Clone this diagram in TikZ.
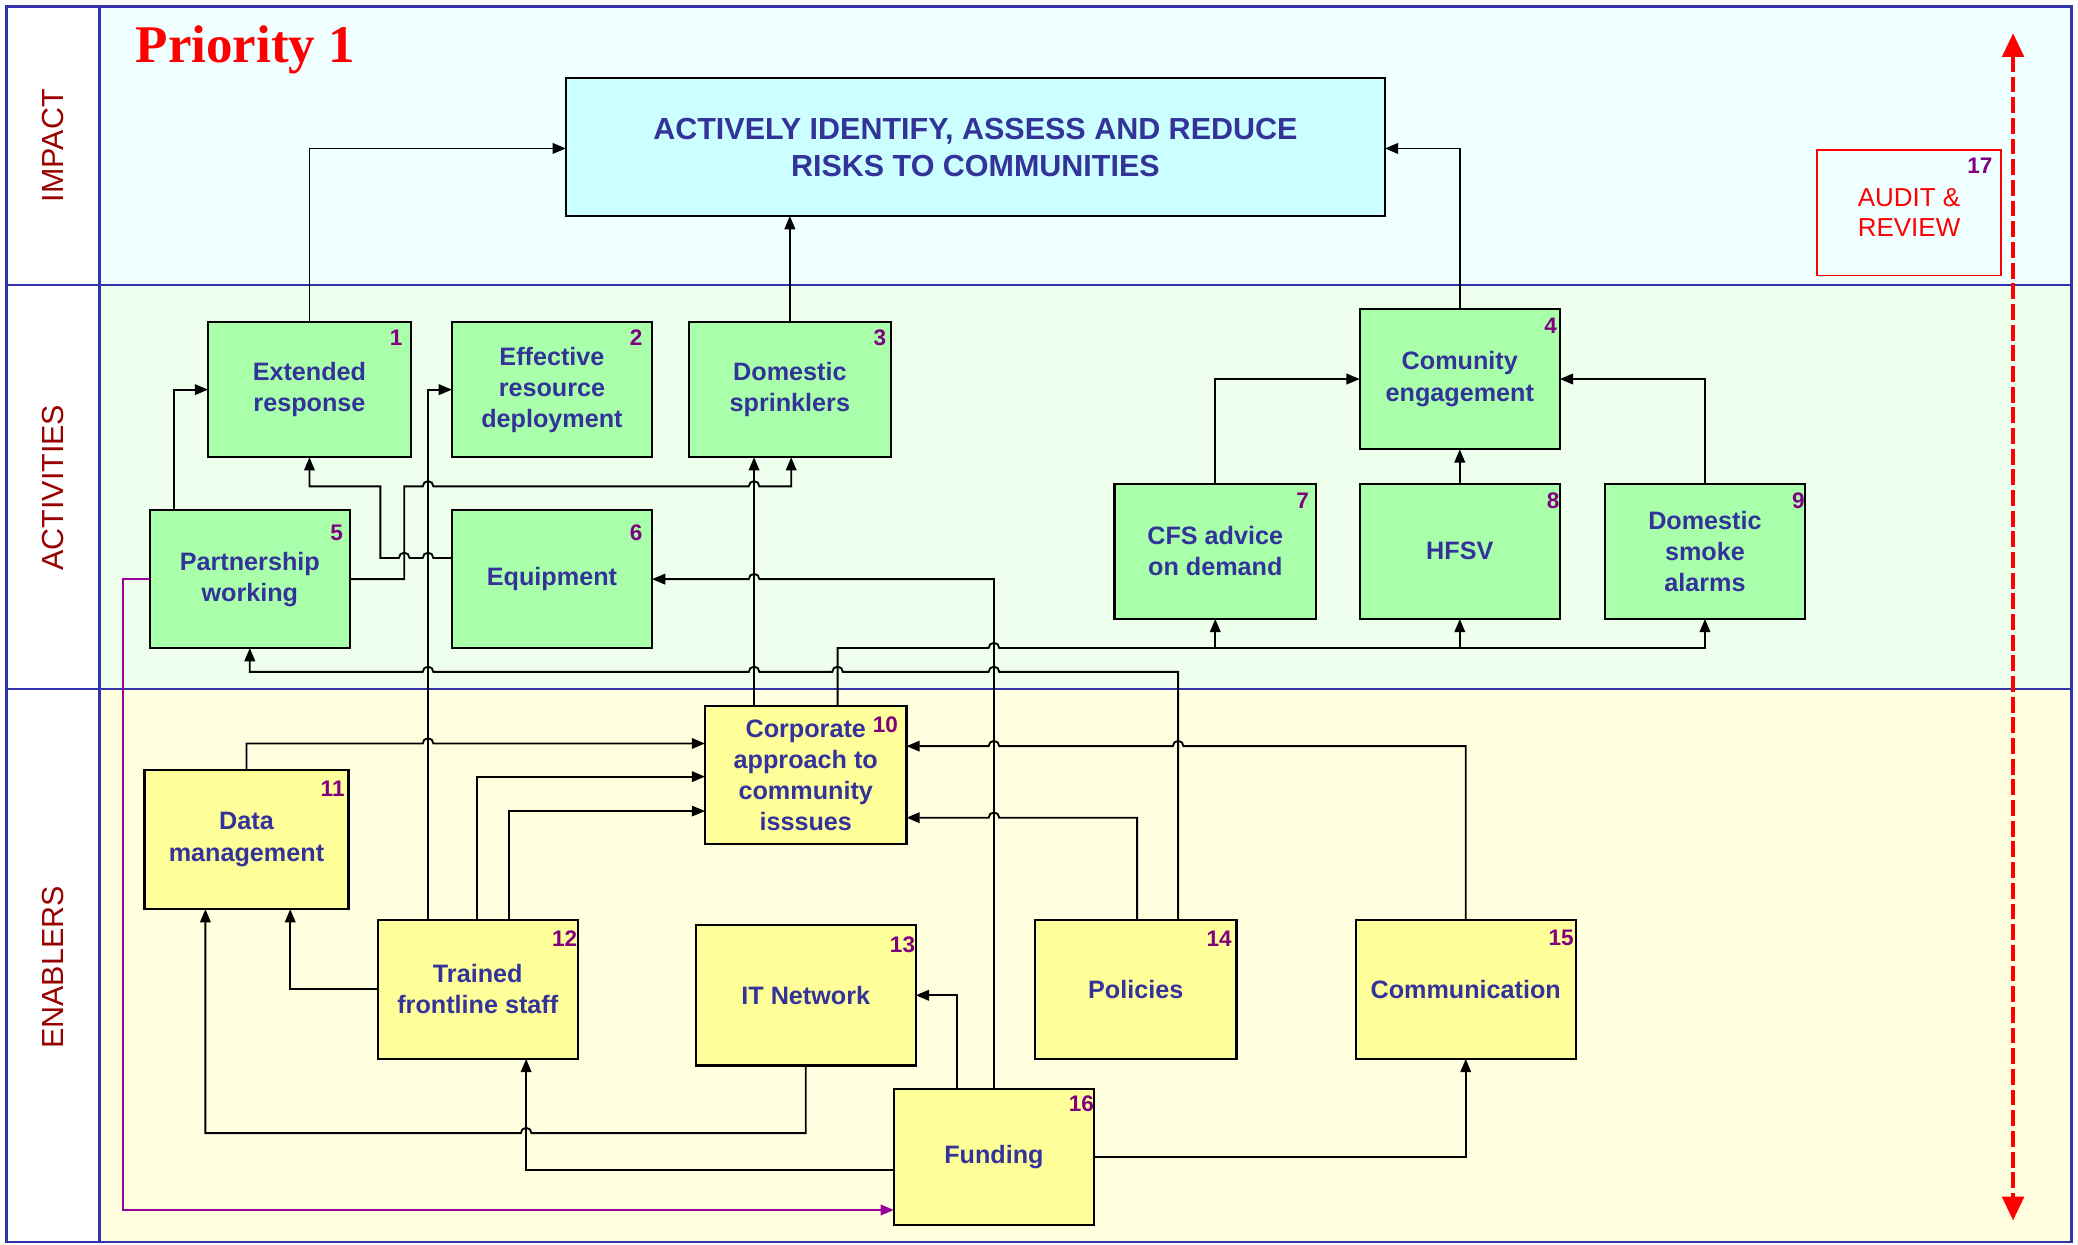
\documentclass[tikz,border=0pt]{standalone}
\usepackage{fontspec}
\setmainfont{Liberation Sans}
\newfontfamily\prioFont{Liberation Serif}
\usetikzlibrary{arrows.meta}
\definecolor{txtblue}{RGB}{51,51,153}
\definecolor{numpurple}{RGB}{128,0,128}
\definecolor{lanered}{RGB}{153,0,0}
\definecolor{frameblue}{RGB}{51,51,170}
\definecolor{impactfill}{RGB}{240,255,255}
\definecolor{actfill}{RGB}{238,255,238}
\definecolor{enfill}{RGB}{255,255,224}
\definecolor{greenbox}{RGB}{170,255,170}
\definecolor{yellowbox}{RGB}{255,255,153}
\definecolor{titlefill}{RGB}{204,255,255}
\definecolor{purpleline}{RGB}{153,0,153}
\definecolor{auditred}{RGB}{255,0,0}
\begin{document}
\begin{tikzpicture}[x=0.5pt,y=0.5pt,
  box/.style={draw=black, line width=0.8pt, inner sep=0pt, outer sep=0pt, align=center,
    text=txtblue, font=\fontsize{9.5}{11.75}\selectfont\bfseries},
  gbox/.style={box, fill=greenbox, minimum width=75.5pt, minimum height=51pt},
  ybox/.style={box, fill=yellowbox, minimum width=75.5pt, minimum height=52.5pt},
  num/.style={text=numpurple, font=\fontsize{8.5}{10}\selectfont\bfseries, inner sep=0pt},
  conn/.style={draw=black, line width=0.7pt, -{Triangle[length=5pt,width=4pt]}},
  lane/.style={text=lanered, font=\fontsize{11.5}{13}\selectfont, rotate=90, inner sep=0pt},
  border/.style={draw=frameblue, line width=0.9pt}
]
\useasboundingbox (0,0) rectangle (1568,-939);
% lanes
\fill[impactfill] (75,-5) rectangle (1563,-215);
\fill[actfill] (75,-215) rectangle (1563,-520);
\fill[enfill] (75,-520) rectangle (1563,-937);
\fill[white] (5,-5) rectangle (75,-937);
\draw[border] (5,-5) rectangle (1563,-937);
\draw[border] (75,-5) -- (75,-937);
\draw[border] (5,-215) -- (1563,-215);
\draw[border] (5,-520) -- (1563,-520);

\node[lane] (lImpact) at (40,-110) {IMPACT};
\node[lane] (lAct) at (40,-368) {ACTIVITIES};
\node[lane] (lEn) at (40,-730) {ENABLERS};

\node[anchor=base west, inner sep=0pt, text=red, font=\prioFont\bfseries\fontsize{20}{24}\selectfont] (prio) at (102,-47) {Priority 1};

% title
\node[box, fill=titlefill, minimum width=309pt, minimum height=52pt,
  font=\fontsize{11.5}{14}\selectfont\bfseries] (title) at (736,-111)
  {ACTIVELY IDENTIFY, ASSESS AND REDUCE\\RISKS TO COMMUNITIES};

% audit
\node[draw=auditred, line width=0.6pt, text=auditred, minimum width=69.5pt, minimum height=47.5pt,
  align=center, font=\fontsize{9.8}{11.5}\selectfont, inner sep=0pt, outer sep=0pt] (audit)
  at (1440.5,-160.5) {AUDIT \&\\REVIEW};
\coordinate (auTop) at (1519,-25);
\coordinate (auBot) at (1519,-921);
\draw[auditred, line width=1.7pt, dash pattern=on 6pt off 1.8pt,
  {Triangle[length=9pt,width=8pt]}-{Triangle[length=9pt,width=8pt]}] (auTop) -- (auBot);

% activities
\node[gbox, minimum width=76.5pt] (n1) at (233.5,-294) {Extended\\response};
\node[gbox] (n2) at (416.5,-294) {Effective\\resource\\deployment};
\node[gbox, minimum width=76pt] (n3) at (596,-294) {Domestic\\sprinklers};
\node[gbox, minimum height=53pt] (n4) at (1101.5,-286) {Comunity\\engagement};
\node[gbox, minimum height=52pt] (n5) at (188.5,-437) {Partnership\\working};
\node[gbox, minimum height=52pt] (n6) at (416.5,-437) {Equipment};
\node[gbox, minimum width=76pt] (n7) at (917,-416) {CFS advice\\on demand};
\node[gbox] (n8) at (1101.5,-416) {HFSV};
\node[gbox] (n9) at (1286.5,-416) {Domestic\\smoke\\alarms};

% enablers
\node[ybox, minimum width=76pt, minimum height=52pt] (n10) at (608,-585) {Corporate\\approach to\\community\\isssues};
\node[ybox, minimum width=77pt] (n11) at (186,-633.5) {Data\\management};
\node[ybox] (n12) at (360.5,-746.5) {Trained\\frontline staff};
\node[ybox, minimum width=83pt, minimum height=53pt] (n13) at (608,-751) {IT Network};
\node[ybox, minimum width=76pt] (n14) at (857,-746.5) {Policies};
\node[ybox, minimum width=83pt] (n15) at (1106,-746.5) {Communication};
\node[ybox, minimum height=51pt] (n16) at (750,-873) {Funding};

% numbers
\node[num] (k1) at (299,-255) {1};
\node[num] (k2) at (480,-255) {2};
\node[num] (k3) at (664,-255) {3};
\node[num] (k4) at (1170,-246) {4};
\node[num] (k5) at (254,-402) {5};
\node[num] (k6) at (480,-402) {6};
\node[num] (k7) at (983,-378) {7};
\node[num] (k8) at (1172,-378) {8};
\node[num] (k9) at (1357,-378) {9};
\node[num] (k10) at (668,-547) {10};
\node[num] (k11) at (251,-595) {11};
\node[num] (k12) at (426,-708) {12};
\node[num] (k13) at (681,-713) {13};
\node[num] (k14) at (920,-708) {14};
\node[num] (k15) at (1178,-708) {15};
\node[num] (k16) at (816,-833) {16};
\node[num] (k17) at (1494,-125) {17};

% connectors to title
\draw[conn] (n1.north) |- (title.west |- 0,-112);
\draw[conn] (n3.north) -- (title.south -| n3.north);
\draw[conn] (n4.north) |- (title.east |- 0,-112);

% to community engagement
\draw[conn] (n7.north) |- (n4.west);
\draw[conn] (n8.north) -- (n4.south);
\draw[conn] (n9.north) |- (n4.east);

% partnership -> extended response
\draw[conn] (n5.north -| 131,0) |- (n1.west);
% trained -> effective resource
\draw[conn] (n12.north -| 323,0) |- (n2.west);
% equipment -> extended response
\draw[conn] (n6.west |- 0,-421) -- (327,-421) arc[start angle=0,end angle=180,radius=2pt]
  -- (309,-421) arc[start angle=0,end angle=180,radius=2pt] -- (287,-421) -- (287,-367) -| (n1.south);
% partnership -> sprinklers
\draw[conn] (n5.east) -- (305,-437) -- (305,-367) -- (319,-367) arc[start angle=180,end angle=0,radius=2pt]
  -- (565,-367) arc[start angle=180,end angle=0,radius=2pt] -- (597,-367) -- (n3.south -| 597,0);
% corporate -> sprinklers
\draw[conn] (n10.north -| 569,0) -- (n3.south -| 569,0);
% funding -> equipment
\draw[conn] (n16.north) -- (750,-437) -- (573,-437) arc[start angle=0,end angle=180,radius=2pt] -- (n6.east);
% corporate -> 7, 8, 9
\coordinate (b7) at (917,-489);
\coordinate (b8) at (1101.5,-489);
\draw[conn] (n10.north -| 632,0) -- (632,-489) -- (746,-489) arc[start angle=180,end angle=0,radius=2pt]
  -- (1286.5,-489) -- (n9.south);
\draw[conn] (b7) -- (n7.south);
\draw[conn] (b8) -- (n8.south);
% policies -> partnership
\draw[conn] (n14.north -| 889,0) -- (889,-507) -- (754,-507) arc[start angle=0,end angle=180,radius=2pt]
  -- (636,-507) arc[start angle=0,end angle=180,radius=2pt]
  -- (573,-507) arc[start angle=0,end angle=180,radius=2pt]
  -- (327,-507) arc[start angle=0,end angle=180,radius=2pt] -- (188.5,-507) -- (n5.south);
% data -> corporate
\draw[conn] (n11.north) -- (186,-561) -- (319,-561) arc[start angle=180,end angle=0,radius=2pt]
  -- (n10.west |- 0,-561);
% trained -> corporate
\draw[conn] (n12.north -| 360,0) |- (n10.west |- 0,-586);
\draw[conn] (n12.north -| 384,0) |- (n10.west |- 0,-612);
% trained -> data
\draw[conn] (n12.west) -| (n11.south -| 219,0);
% IT -> data
\draw[conn] (n13.south) -- (608,-855) -- (401,-855) arc[start angle=0,end angle=180,radius=2pt]
  -- (155,-855) -- (n11.south -| 155,0);
% funding -> trained
\draw[conn] (n16.west |- 0,-883) -| (n12.south -| 397,0);
% funding -> IT
\draw[conn] (n16.north -| 722,0) |- (n13.east);
% funding -> communication
\draw[conn] (n16.east) -| (n15.south);
% communication -> corporate
\draw[conn] (n15.north) -- (1106,-563) -- (893,-563) arc[start angle=0,end angle=180,radius=2pt]
  -- (754,-563) arc[start angle=0,end angle=180,radius=2pt] -- (n10.east |- 0,-563);
% policies -> corporate
\draw[conn] (n14.north -| 858,0) -- (858,-617) -- (754,-617) arc[start angle=0,end angle=180,radius=2pt]
  -- (n10.east |- 0,-617);
% partnership -> funding (purple)
\draw[conn, draw=purpleline] (n5.west) -| (93,-913) -- (n16.west |- 0,-913);
\end{tikzpicture}
\end{document}
